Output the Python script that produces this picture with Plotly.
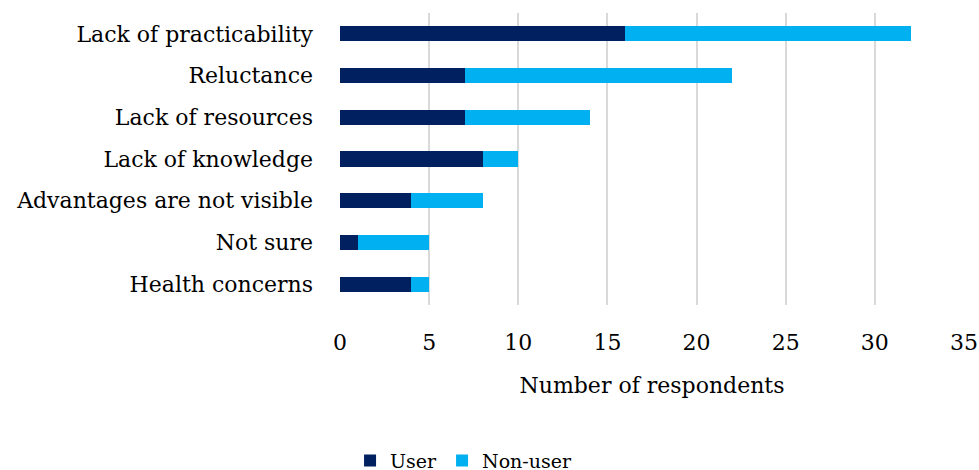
import plotly.graph_objects as go

categories = ["Lack of practicability", "Reluctance", "Lack of resources", "Lack of knowledge",
              "Advantages are not visible", "Not sure", "Health concerns"]
user = [16, 7, 7, 8, 4, 1, 4]
non_user = [16, 15, 7, 2, 4, 4, 1]
x_ticks = [0, 5, 10, 15, 20, 25, 30, 35]

FONT = "DejaVu Serif"
FS = 22

fig = go.Figure()
fig.add_trace(go.Bar(y=categories, x=user, name="User", orientation="h",
                     marker=dict(color="#002060", line=dict(width=0))))
fig.add_trace(go.Bar(y=categories, x=non_user, name="Non-user", orientation="h",
                     marker=dict(color="#00B0F0", line=dict(width=0))))

fig.update_layout(
    width=979, height=470,
    barmode="stack", bargap=0.64,
    plot_bgcolor="white", paper_bgcolor="white",
    margin=dict(l=340, r=15, t=13, b=165, autoexpand=False),
    font=dict(family=FONT, size=FS, color="#000000"),
    showlegend=True,
    legend=dict(orientation="h", x=0.198, xanchor="center",
                y=-0.533, yanchor="middle", font=dict(size=19),
                itemwidth=30, traceorder="normal"),
    xaxis=dict(range=[0, 35], tickvals=x_ticks, showgrid=True, gridcolor="#D9D9D9",
               gridwidth=2, zeroline=False, showline=False, automargin=False,
               ticks="", ticklabelstandoff=22,
               title=dict(text="Number of respondents", standoff=23, font=dict(size=FS))),
    yaxis=dict(categoryorder="array", categoryarray=categories[::-1], showgrid=False,
               zeroline=False, showline=False, ticks="", ticklabelstandoff=26,
               automargin=False),
)

fig.write_html("out.html", config={"displayModeBar": False},
               post_script="document.body.style.margin='0';document.body.style.overflow='hidden';")
